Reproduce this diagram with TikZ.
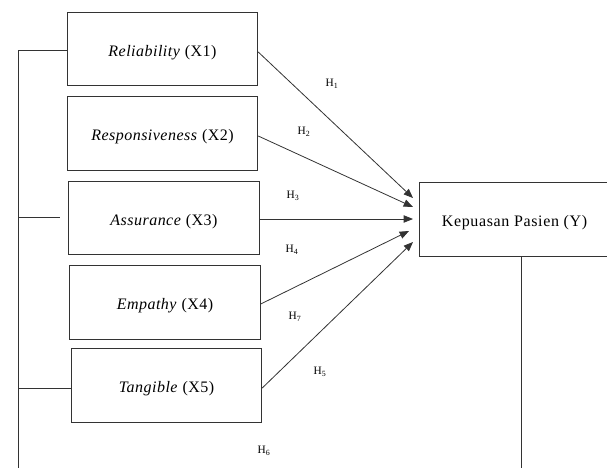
\documentclass[tikz,border=0pt]{standalone}
\usepackage{fontspec}
\setmainfont{Liberation Serif}
\usetikzlibrary{arrows.meta}
\newcommand{\linecolor}{black!80}
\newcommand{\thickness}{0.6pt}

\begin{document}
\begin{tikzpicture}[x=0.75pt,y=-0.75pt,
  varbox/.style={draw=\linecolor, line width=\thickness, minimum width=143pt, minimum height=55pt, inner sep=0pt, text height=12pt, text depth=1.3pt, font=\fontsize{12}{14}\selectfont\addfontfeatures{LetterSpace=3}},
  hlabel/.style={font=\fontsize{8.5}{10}\selectfont, inner sep=0pt},
  link/.style={\linecolor, line width=\thickness},
  path/.style={link, -{Triangle[length=7pt,width=5.5pt]}}]
\useasboundingbox (0,0) rectangle (607,468);
\node[varbox] (x1) at (162.5, 49.0) {\textit{Reliability} (X1)};
\node[varbox] (x2) at (162.5,133.5) {\textit{Responsiveness} (X2)};
\node[varbox] (x3) at (164.0,218.0) {\textit{Assurance} (X3)};
\node[varbox] (x4) at (165.0,302.5) {\textit{Empathy} (X4)};
\node[varbox] (x5) at (166.5,385.5) {\textit{Tangible} (X5)};
\begin{scope}
\clip (0,0) rectangle (607,468);
\node[varbox, minimum width=142pt, font=\fontsize{12}{14}\selectfont\addfontfeatures{LetterSpace=4}] (y) at (514.5,219.5) {Kepuasan Pasien (Y)};
\end{scope}
%arrow ends
\coordinate (t1) at (413,198);
\coordinate (t2) at (413,207);
\coordinate (t3) at (413,219);
\coordinate (t4) at (409,231);
\coordinate (t5) at (413,242);
\draw[path] (x1.east |- 0,52) -- (t1);
\draw[path] (x2.east |- 0,136) -- (t2);
\draw[path] (x3.east |- 0,219) -- (t3);
\draw[path] (x4.east |- 0,304) -- (t4);
\draw[path] (x5.east |- 0,388) -- (t5);
%left lines
\coordinate (l1) at (18,50);
\coordinate (l2) at (18,217);
\coordinate (l3) at (60,217);
\coordinate (l4) at (18,388);
\coordinate (l5) at (18,468);
\draw[link] (l1) -- (l5);
\draw[link] (l1) -- (x1.west |- l1);
\draw[link] (l2) -- (l3);
\draw[link] (l4) -- (x5.west |- l4);
%line under Y
\coordinate (yb) at (521,468);
\draw[link] (y.south -| yb) -- (yb);
%labels
\node[hlabel] (h1) at (332,84) {H\textsubscript{1}};
\node[hlabel] (h2) at (304,132) {H\textsubscript{2}};
\node[hlabel] (h3) at (293,196) {H\textsubscript{3}};
\node[hlabel] (h4) at (292,250) {H\textsubscript{4}};
\node[hlabel] (h7) at (295,317) {H\textsubscript{7}};
\node[hlabel] (h5) at (320,372) {H\textsubscript{5}};
\node[hlabel] (h6) at (264,451) {H\textsubscript{6}};
\end{tikzpicture}
\end{document}
